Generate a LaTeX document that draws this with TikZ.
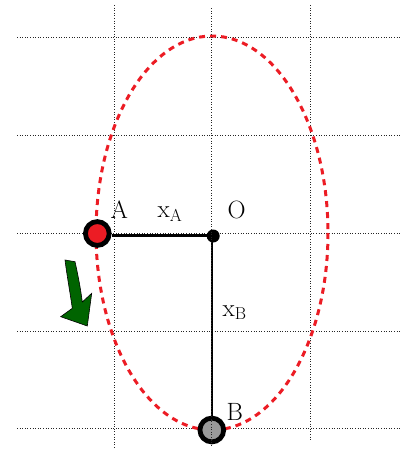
\documentclass[tikz,border=0pt]{standalone}
\begin{document}
\begin{tikzpicture}[x=1pt,y=-1pt,
  grid/.style={line width=0.9pt,dash pattern=on 1pt off 1.6pt,black!85},
  orbit/.style={line width=3pt,dash pattern=on 6pt off 5pt,color={rgb,255:red,236;green,28;blue,36}},
  rod/.style={line width=2.6pt,black},
  mass/.style={circle,draw=black,line width=4.8pt,minimum size=23.8pt,inner sep=0pt},
  lbl/.style={anchor=base west,inner sep=0pt,font=\fontsize{25}{29}\selectfont}]
\useasboundingbox (0,0) rectangle (409,450);
% grid
\foreach \y in {37.7,135.5,233,331,428.5} \draw[grid] (17,\y) -- (400,\y);
\draw[grid] (114.5,5) -- (114.5,448);
\draw[grid] (310.3,5) -- (310.3,440);
% orbit
\draw[orbit] (212,233) ellipse [x radius=116, y radius=197];
% nodes
\node[mass,fill={rgb,255:red,236;green,28;blue,36}] (A) at (97.3,233.5) {};
\node[circle,fill=black,minimum size=13pt,inner sep=0pt] (O) at (213.2,236) {};
\node[mass,fill=black!40] (B) at (211.8,430) {};
\coordinate (Ao) at (A.east |- 0,235.7);
\coordinate (Oh) at (O.center |- 0,235.7);
\coordinate (Ov) at (B.center |- O.center);
\draw[rod] (Ao) -- (Oh);
\draw[rod] (Ov) -- (B.north);
\draw[grid] (211.8,8) -- (211.8,446);
% labels
\node[lbl] (lA) at (110.5,218.5) {A};
\node[lbl] (lxA) at (157.5,217.5) {x$_{\mathrm{A}}$};
\node[lbl] (lO) at (227.5,218) {O};
\node[lbl] (lxB) at (222.5,316) {x$_{\mathrm{B}}$};
\node[lbl] (lB) at (226.5,420) {B};
% arrow
\draw[fill={rgb,255:red,0;green,100;blue,0},line width=0.6pt,line join=miter]
  (65,260) -- (75,261.7) .. controls (78,275) and (80.5,288) .. (82.3,302)
  -- (91.7,293.3) -- (87.3,326) -- (60.7,316.7) -- (72.3,308.3)
  .. controls (70,292) and (67,276) .. (65,260) -- cycle;
\end{tikzpicture}
\end{document}
